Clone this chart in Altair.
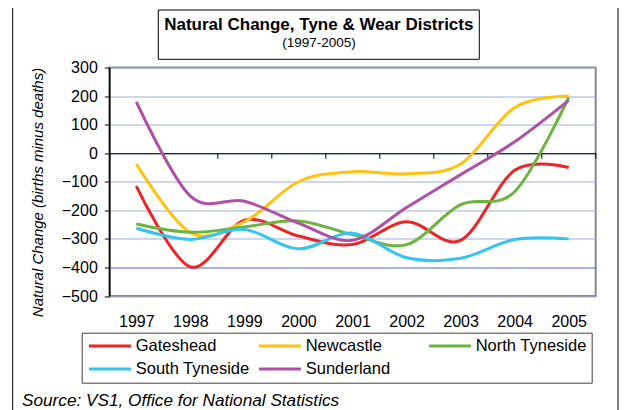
import altair as alt
import pandas as pd

years = ["1997", "1998", "1999", "2000", "2001", "2002", "2003", "2004", "2005"]
districts = ["Gateshead", "Newcastle", "North Tyneside", "South Tyneside", "Sunderland"]
gateshead = [-115, -398, -235, -290, -320, -240, -305, -60, -50]
newcastle = [-38, -278, -240, -100, -65, -72, -38, 160, 200]
north_tyneside = [-248, -277, -258, -237, -285, -320, -180, -135, 195]
south_tyneside = [-263, -302, -267, -335, -280, -366, -368, -302, -300]
sunderland = [180, -150, -168, -245, -305, -190, -75, 40, 185]
colors = ["#EE2326", "#FFC20E", "#6DB33F", "#33C4F0", "#B04FA5"]
y_ticks = [-500, -400, -300, -200, -100, 0, 100, 200, 300]
title_text = "Natural Change, Tyne & Wear Districts"
subtitle_text = "(1997-2005)"
source_text = "Source: VS1, Office for National Statistics"

series = [gateshead, newcastle, north_tyneside, south_tyneside, sunderland]
rows = []
for name, vals in zip(districts, series):
    for yr, v in zip(years, vals):
        rows.append({"year": yr, "district": name, "value": v})
df = pd.DataFrame(rows)

FONT = "Liberation Sans"
W, H = 486.4, 228.5

lines = alt.Chart(df).mark_line(strokeWidth=3, interpolate="cardinal", tension=0).encode(
    x=alt.X("year:O", sort=years,
            scale=alt.Scale(type="band", paddingInner=0, paddingOuter=0),
            axis=alt.Axis(title=None, orient="bottom", offset=-142.8,
                          domainColor="black", domainWidth=1,
                          tickColor="black", tickSize=5, tickWidth=1, tickBand="extent",
                          labelAngle=0, labelFont=FONT, labelFontSize=16, labelColor="black",
                          labelPadding=155, labelBaseline="top", grid=False)),
    y=alt.Y("value:Q",
            scale=alt.Scale(domain=[-500, 300], nice=False, zero=False),
            axis=alt.Axis(title="Natural Change (births minus deaths)", values=y_ticks,
                          titleFont=FONT, titleFontSize=15, titleFontStyle="italic",
                          titleFontWeight="normal", titleColor="black",
                          titleAngle=270, titleX=-72, titleY=124.5,
                          titleAlign="center", titleBaseline="middle",
                          labelFont=FONT, labelFontSize=16, labelColor="black", labelPadding=7,
                          tickSize=5, tickColor="black", tickWidth=1,
                          domainColor="black", domainWidth=1.5,
                          grid=True, gridWidth=1,
                          gridColor=alt.ExprRef("datum.value == -400 ? '#4A68B8' : '#9DB0D8'"))),
    color=alt.Color("district:N", sort=districts,
                    scale=alt.Scale(domain=districts, range=colors),
                    legend=alt.Legend(title=None, orient="none", legendX=-27.6, legendY=265.2,
                                      direction="horizontal", columns=3, gridAlign="all",
                                      columnPadding=3, rowPadding=6,
                                      symbolType="M-1,0H6", symbolSize=144, symbolStrokeWidth=3,
                                      labelFont=FONT, labelFontSize=16.5, labelColor="black",
                                      labelOffset=32.5, strokeColor="#404040", padding=5)),
)

one = alt.Data(values=[{"k": 1}])

outer = alt.Chart(one).mark_rect(fillOpacity=0, stroke="black", strokeWidth=1).encode(
    x=alt.value(-96.6), x2=alt.value(508.7), y=alt.value(-60.8), y2=alt.value(380))

title_box = alt.Chart(one).mark_rect(fillOpacity=0, stroke="black", strokeWidth=1).encode(
    x=alt.value(49), x2=alt.value(370), y=alt.value(-57.5), y2=alt.value(-8.2))

title1 = alt.Chart(one).mark_text(text=title_text, font=FONT, fontSize=17, fontWeight="bold",
                                  align="center", baseline="middle", color="black").encode(
    x=alt.value(209.5), y=alt.value(-43))

title2 = alt.Chart(one).mark_text(text=subtitle_text, font=FONT, fontSize=13.5,
                                  align="center", baseline="middle", color="black").encode(
    x=alt.value(209.7), y=alt.value(-24.5))

source = alt.Chart(one).mark_text(text=source_text,
                                  font=FONT, fontSize=17.2, fontStyle="italic",
                                  align="left", baseline="alphabetic", color="black").encode(
    x=alt.value(-87.3), y=alt.value(338.5))

chart = alt.layer(outer, title_box, title1, title2, lines, source).properties(
    width=W, height=H,
    autosize=alt.AutoSizeParams(type="none"),
    padding={"left": 101.3, "top": 59.5, "right": 23.3, "bottom": 114},
    background="white",
).configure_view(stroke="#888888", strokeWidth=2)

chart.save("out.html", embed_options={"renderer": "svg", "actions": False})
